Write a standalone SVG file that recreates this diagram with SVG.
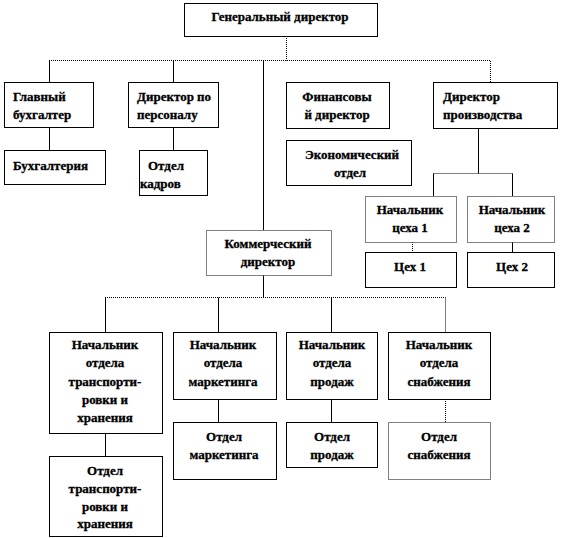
<svg xmlns="http://www.w3.org/2000/svg" width="561" height="538" viewBox="0 0 561 538">
<style>
.b{fill:#fff;stroke:#000;stroke-width:1}
.d{fill:#fff;stroke:#000;stroke-width:1;stroke-dasharray:1 1}
.c{stroke:#000;stroke-width:1;fill:none}
.cd{stroke:#000;stroke-width:1;fill:none;stroke-dasharray:1 1}
text{font-family:"Liberation Serif","DejaVu Serif",serif;font-weight:bold;font-size:13px;fill:#000;stroke:#000;stroke-width:0.3}
.m{text-anchor:middle}
</style>
<rect width="561" height="538" fill="#fff"/>
<g id="connectors">
<path class="cd" d="M286.5 36V60.5"/>
<path class="cd" d="M49 60.5H490.5V82"/>
<path class="c" d="M49.5 60.5V82M173.5 60.5V82M263.5 60.5V230"/>
<path class="c" d="M49.5 127V150M173.5 127V150"/>
<path class="c" d="M478.5 128V173.5"/>
<path class="cd" d="M433.5 173.5H512.5"/>
<path class="c" d="M433.5 173.5V196M512.5 173.5V196"/>
<path class="cd" d="M412.5 242V252"/>
<path class="c" d="M512.5 242V252"/>
<path class="c" d="M263.5 275V297.5"/>
<path class="cd" d="M105 297.5H445.5"/>
<path class="c" d="M105.5 297.5V332M218.5 297.5V332M331.5 297.5V332"/>
<path class="cd" d="M445.5 297.5V332"/>
<path class="c" d="M105.5 433V456M218.5 399V422M331.5 399V422"/>
<path class="cd" d="M445.5 399V422"/>
</g>
<g id="gen"><rect class="b" x="184.5" y="3.5" width="193" height="33"/><text class="m" x="280" y="21">Генеральный  директор</text></g>
<g id="glavbuh"><rect class="b" x="4.5" y="82.5" width="89" height="45"/><text x="13" y="101">Главный</text><text x="13" y="119">бухгалтер</text></g>
<g id="buh"><rect class="b" x="4.5" y="150.5" width="101" height="34"/><text x="13" y="170">Бухгалтерия</text></g>
<g id="dirpers"><rect class="b" x="128.5" y="82.5" width="90" height="45"/><text x="137" y="101">Директор  по</text><text x="137" y="119">персоналу</text></g>
<g id="kadry"><rect class="b" x="139.5" y="150.5" width="68" height="45"/><text x="148" y="170">Отдел</text><text x="140" y="188">кадров</text></g>
<g id="findir"><rect class="b" x="286.5" y="82.5" width="103" height="46"/><text class="m" x="337" y="101">Финансовы</text><text class="m" x="337" y="119">й директор</text></g>
<g id="econ"><rect class="b" x="286.5" y="140.5" width="125" height="45"/><text class="m" x="352" y="159">Экономический</text><text class="m" x="350" y="177">отдел</text></g>
<g id="dirprod"><rect class="b" x="433.5" y="82.5" width="124" height="46"/><text x="443" y="101">Директор</text><text x="443" y="119">производства</text></g>
<g id="nach1"><rect class="d" x="365.5" y="196.5" width="91" height="46"/><text class="m" x="410" y="214">Начальник</text><text class="m" x="410" y="232">цеха 1</text></g>
<g id="nach2"><rect class="d" x="467.5" y="196.5" width="87" height="46"/><text class="m" x="512" y="214">Начальник</text><text class="m" x="512" y="232">цеха 2</text></g>
<g id="ceh1"><rect class="b" x="365.5" y="252.5" width="91" height="35"/><text class="m" x="410" y="271">Цех 1</text></g>
<g id="ceh2"><rect class="b" x="467.5" y="252.5" width="87" height="35"/><text class="m" x="512" y="271">Цех 2</text></g>
<g id="komdir"><rect class="d" x="206.5" y="230.5" width="125" height="45"/><text class="m" x="268" y="248">Коммерческий</text><text class="m" x="268" y="266">директор</text></g>
<g id="nachtr"><rect class="b" x="49.5" y="332.5" width="113" height="101"/><text class="m" x="105" y="349">Начальник</text><text class="m" x="105" y="367">отдела</text><text class="m" x="105" y="386">транспорти-</text><text class="m" x="105" y="404">ровки  и</text><text class="m" x="105" y="422">хранения</text></g>
<g id="otdtr"><rect class="b" x="49.5" y="456.5" width="113" height="80"/><text class="m" x="105" y="475">Отдел</text><text class="m" x="105" y="493">транспорти-</text><text class="m" x="105" y="511">ровки  и</text><text class="m" x="105" y="528">хранения</text></g>
<g id="nachmark"><rect class="b" x="173.5" y="332.5" width="103" height="67"/><text class="m" x="223" y="349">Начальник</text><text class="m" x="223" y="367">отдела</text><text class="m" x="223" y="386">маркетинга</text></g>
<g id="otdmark"><rect class="b" x="173.5" y="422.5" width="103" height="57"/><text class="m" x="224" y="441">Отдел</text><text class="m" x="224" y="459">маркетинга</text></g>
<g id="nachprod"><rect class="b" x="286.5" y="332.5" width="91" height="67"/><text class="m" x="332" y="349">Начальник</text><text class="m" x="332" y="367">отдела</text><text class="m" x="332" y="386">продаж</text></g>
<g id="otdprod"><rect class="b" x="286.5" y="422.5" width="91" height="45"/><text class="m" x="332" y="441">Отдел</text><text class="m" x="332" y="459">продаж</text></g>
<g id="nachsnab"><rect class="b" x="388.5" y="332.5" width="102" height="67"/><text class="m" x="439" y="349">Начальник</text><text class="m" x="439" y="367">отдела</text><text class="m" x="439" y="386">снабжения</text></g>
<g id="otdsnab"><rect class="d" x="388.5" y="422.5" width="102" height="57"/><text class="m" x="439" y="441">Отдел</text><text class="m" x="439" y="459">снабжения</text></g>
</svg>
